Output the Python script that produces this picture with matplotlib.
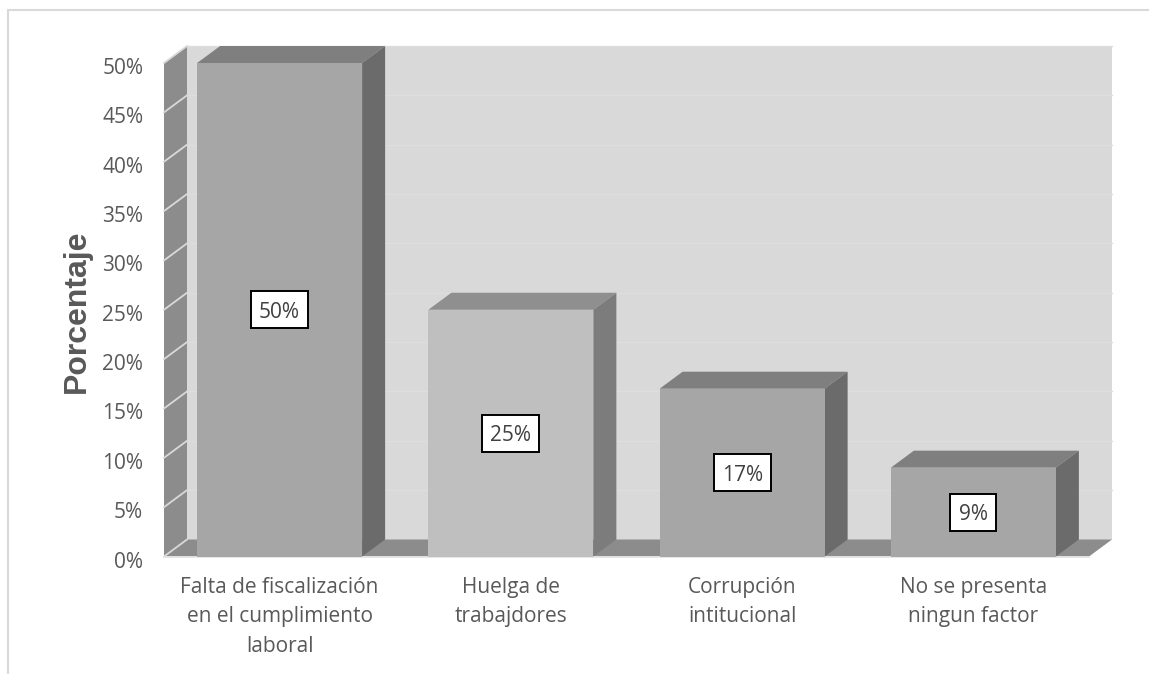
import matplotlib
matplotlib.use("Agg")
import matplotlib.pyplot as plt
from matplotlib.patches import Polygon, Rectangle
from matplotlib.lines import Line2D
from matplotlib.transforms import ScaledTranslation

categories = ["Falta de fiscalización\nen el cumplimiento\nlaboral",
              "Huelga de\ntrabajdores",
              "Corrupción\nintitucional",
              "No se presenta\nningun factor"]
values = [50, 25, 17, 9]
value_labels = ["50%", "25%", "17%", "9%"]
yticks = [0, 5, 10, 15, 20, 25, 30, 35, 40, 45, 50]

FRONT = ["#a6a6a6", "#bfbfbf", "#a6a6a6", "#a6a6a6"]
TOP = ["#7f7f7f", "#8f8f8f", "#7f7f7f", "#7f7f7f"]
SIDE = ["#6b6b6b", "#7c7c7c", "#6b6b6b", "#6b6b6b"]
WALL, SHADE, GRID = "#d9d9d9", "#8c8c8c", "#dedede"
TEXT = "#595959"

W, H = 1149, 674
fig = plt.figure(figsize=(W / 100, H / 100), dpi=100)
ax = fig.add_axes([164 / W, 1 - 556.5 / H, 925 / W, 493.5 / H])
ax.set_xlim(0, 4)
ax.set_ylim(0, 50)
ax.patch.set_visible(False)
for s in ax.spines.values():
    s.set_visible(False)

PX = 4 / 925          # data units of x per pixel
PY = 50 / 493.5       # data units of y per pixel
DX = 23 * PX
DY = 17 * PY
BW = 165 * PX

def poly(pts, color, z):
    ax.add_patch(Polygon(pts, closed=True, facecolor=color, edgecolor="none",
                         zorder=z, clip_on=False))

# walls
poly([(DX, DY), (4 + DX, DY), (4 + DX, 50 + DY), (DX, 50 + DY)], WALL, 1)
poly([(0, 0), (DX, DY), (DX, 50 + DY), (0, 50)], SHADE, 1)
poly([(0, 0), (4, 0), (4 + DX, DY), (DX, DY)], SHADE, 1)

# gridlines
for t in yticks:
    if t > 0:
        ax.add_line(Line2D([DX, 4 + DX], [t + DY, t + DY], color=GRID, lw=1,
                           zorder=1.5, clip_on=False))
    ax.add_line(Line2D([0, DX], [t, t + DY], color=WALL, lw=1.3,
                       zorder=1.5, clip_on=False))
ax.add_line(Line2D([0, 4], [0, 0], color="#e4e4e4", lw=1.3, zorder=1.5, clip_on=False))

# bars
for i, v in enumerate(values):
    x0 = i + 0.5 - BW / 2
    x1 = i + 0.5 + BW / 2
    poly([(x0, v), (x1, v), (x1 + DX, v + DY), (x0 + DX, v + DY)], TOP[i], 2)
    poly([(x1, 0), (x1 + DX, DY), (x1 + DX, v + DY), (x1, v)], SIDE[i], 2)
    ax.bar(i + 0.5, v, width=BW, color=FRONT[i], zorder=3, clip_on=False)
    bw, bh = 57 * PX, 37 * PY
    if value_labels[i] == "9%":
        bw = 46 * PX
    ax.add_patch(Rectangle((i + 0.5 - bw / 2, v / 2 - bh / 2), bw, bh, facecolor="white",
                           edgecolor="black", lw=1.4, zorder=4, clip_on=False))
    ax.text(i + 0.5, v / 2, value_labels[i], ha="center", va="center_baseline",
            fontsize=15, family="Open Sans", color="#404040", zorder=5)

ax.set_yticks(yticks)
ax.set_yticklabels([f"{t}%" for t in yticks], fontsize=15, family="Open Sans", color=TEXT)
ax.set_xticks([i + 0.5 for i in range(4)])
ax.set_xticklabels(categories, fontsize=15, family="Open Sans", color=TEXT, linespacing=1.55)
ax.tick_params(axis="both", length=0)
ax.tick_params(axis="x", pad=14.5)
ax.tick_params(axis="y", pad=15)
shift = ScaledTranslation(0, -3 / 100, fig.dpi_scale_trans)
for lab in ax.get_yticklabels():
    lab.set_transform(lab.get_transform() + shift)

fig.text(77 / W, 1 - 311 / H, "Porcentaje", rotation=90, ha="center", va="center",
         fontsize=23, fontweight="bold", family="Liberation Sans", color=TEXT)

# outer frame fragments
fig.add_artist(Line2D([8 / W, 8 / W], [0, 1 - 10 / H], color=WALL, lw=1.5))
fig.add_artist(Line2D([8 / W, 1], [1 - 10 / H, 1 - 10 / H], color=WALL, lw=1.5))

fig.savefig("out.png", dpi=100)
